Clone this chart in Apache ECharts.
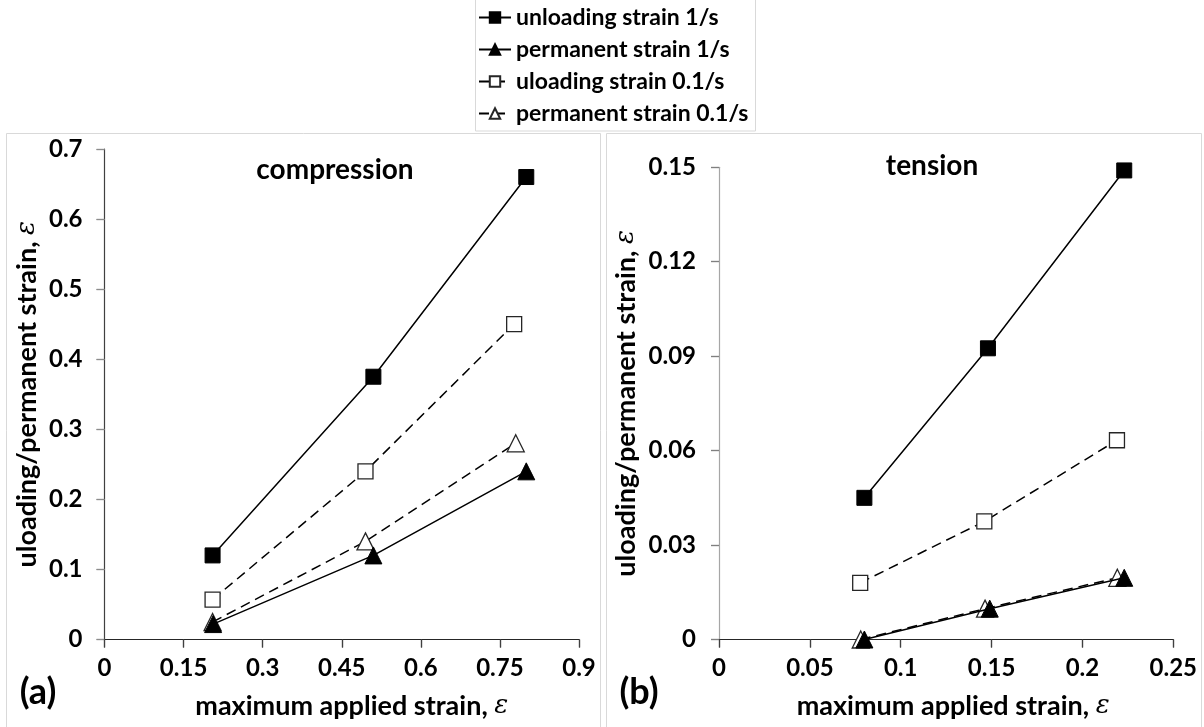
<!DOCTYPE html>
<html>
<head>
<meta charset="utf-8">
<script src="https://cdn.jsdelivr.net/npm/echarts@6/dist/echarts.min.js"></script>
<style>html,body{margin:0;padding:0;background:#fff;}#c{width:1204px;height:727px;}</style>
</head>
<body>
<div id="c"></div>
<script>
// ---- data: compression (panel a) ----
const seriesNames = ['unloading strain 1/s', 'permanent strain 1/s', 'uloading strain 0.1/s', 'permanent strain 0.1/s'];
const compUnload1X = [0.205, 0.51, 0.80];
const compUnload1Y = [0.12, 0.375, 0.66];
const compPerm1X = [0.206, 0.51, 0.80];
const compPerm1Y = [0.022, 0.12, 0.24];
const compUnload01X = [0.205, 0.495, 0.777];
const compUnload01Y = [0.057, 0.24, 0.45];
const compPerm01X = [0.205, 0.495, 0.78];
const compPerm01Y = [0.025, 0.14, 0.28];
// ---- data: tension (panel b) ----
const tensUnload1X = [0.080, 0.148, 0.223];
const tensUnload1Y = [0.045, 0.0925, 0.149];
const tensPerm1X = [0.080, 0.149, 0.223];
const tensPerm1Y = [0.0, 0.0098, 0.0196];
const tensUnload01X = [0.0777, 0.146, 0.219];
const tensUnload01Y = [0.018, 0.0375, 0.0633];
const tensPerm01X = [0.078, 0.1464, 0.2192];
const tensPerm01Y = [0.0, 0.0098, 0.0196];
// ---- tick labels ----
const compXTicks = ['0', '0.15', '0.3', '0.45', '0.6', '0.75', '0.9'];
const compYTicks = ['0', '0.1', '0.2', '0.3', '0.4', '0.5', '0.6', '0.7'];
const tensXTicks = ['0', '0.05', '0.1', '0.15', '0.2', '0.25'];
const tensYTicks = ['0', '0.03', '0.06', '0.09', '0.12', '0.15'];

const FONT = 'Lato';
const zip = (xs, ys) => xs.map((x, i) => [x, ys[i]]);
const tickFmt = (labels, step) => v => labels[Math.round(v / step)] ?? '';

function axisPair(grid, min, max, step, labels, opts) {
  const main = {
    type: 'value', gridIndex: grid, min: min, max: max, interval: step,
    axisLine: { show: true, onZero: false, lineStyle: { color: opts.lineColor, width: 1.2 } },
    axisTick: { show: true, inside: false, length: 8, lineStyle: { color: opts.tickColor, width: 1.2 } },
    splitLine: { show: false },
    axisLabel: { formatter: tickFmt(labels, step), fontFamily: FONT, fontWeight: 'bold', fontSize: 24, color: '#000', margin: opts.labelMargin },
    name: opts.name, nameLocation: 'middle', nameGap: opts.nameGap,
    nameTextStyle: { fontFamily: FONT, fontWeight: 'bold', fontSize: 27, color: '#000', padding: opts.namePad || 0,
      rich: { i: { fontFamily: 'DejaVu Serif', fontStyle: 'italic', fontWeight: 'normal', fontSize: 26, color: '#000' } } }
  };
  const twin = {
    type: 'value', gridIndex: grid, min: min, max: max, interval: step,
    axisLine: { show: false },
    axisTick: { show: true, inside: true, length: 8, lineStyle: { color: opts.tickColor, width: 1.2 } },
    axisLabel: { show: false }, splitLine: { show: false }
  };
  return [main, twin];
}

const [cx, cxT] = axisPair(0, 0, 0.9, 0.15, compXTicks, { lineColor: '#262626', tickColor: '#404040', labelMargin: 17, name: 'maximum applied strain, {i|ε}', nameGap: 53, namePad: [0, 0, 0, 20] });
const [cy, cyT] = axisPair(0, 0, 0.7, 0.1, compYTicks, { lineColor: '#404040', tickColor: '#8c8c8c', labelMargin: 22, name: 'uloading/permanent strain, {i|ε}', nameGap: 64 });
const [tx, txT] = axisPair(1, 0, 0.25, 0.05, tensXTicks, { lineColor: '#262626', tickColor: '#404040', labelMargin: 17, name: 'maximum applied strain, {i|ε}', nameGap: 53, namePad: [0, 0, 0, 14] });
const [ty, tyT] = axisPair(1, 0, 0.15, 0.03, tensYTicks, { lineColor: '#a6a6a6', tickColor: '#808080', labelMargin: 23, name: 'uloading/permanent strain, {i|ε}', nameGap: 79 });

function filled(name, data, sym, size, xi, yi) {
  return { name: name, type: 'line', xAxisIndex: xi, yAxisIndex: yi, data: data, z: 5,
    symbol: sym, symbolSize: size, showSymbol: true, animation: false,
    itemStyle: { color: '#000', borderColor: '#000', borderWidth: 1 },
    lineStyle: { color: '#000', width: 1.5, type: 'solid' } };
}
function open(name, data, sym, size, xi, yi) {
  return { name: name, type: 'line', xAxisIndex: xi, yAxisIndex: yi, data: data, z: 3,
    symbol: sym, symbolSize: size, showSymbol: true, animation: false,
    itemStyle: { color: '#fff', borderColor: '#262626', borderWidth: 1.3 },
    lineStyle: { color: '#000', width: 1.5, type: [10, 6] } };
}

const chart = echarts.init(document.getElementById('c'), null, { renderer: 'canvas' });
chart.setOption({
  backgroundColor: '#fff',
  animation: false,
  grid: [
    { left: 104.5, top: 149, width: 474.5, height: 490.5 },
    { left: 719, top: 167.3, width: 454.3, height: 472.2 }
  ],
  xAxis: [cx, tx, cxT, txT].map((a, i) => Object.assign(a, { gridIndex: i % 2 })),
  yAxis: [cy, ty, cyT, tyT].map((a, i) => Object.assign(a, { gridIndex: i % 2 })),
  legend: {
    data: seriesNames, orient: 'vertical', left: 478, top: 6, padding: 0,
    itemWidth: 32, itemHeight: 13, itemGap: 9,
    textStyle: { fontFamily: FONT, fontWeight: 'bold', fontSize: 23, color: '#000' },
    inactiveColor: '#000'
  },
  title: [
    { text: 'compression', left: 330, top: 151, textAlign: 'center', textStyle: { fontFamily: FONT, fontWeight: 'bold', fontSize: 28, color: '#000' } },
    { text: 'tension', left: 927, top: 147, textAlign: 'center', textStyle: { fontFamily: FONT, fontWeight: 'bold', fontSize: 28, color: '#000' } }
  ],
  graphic: [
    { type: 'rect', shape: { x: 475.5, y: -2, width: 280, height: 133 }, style: { fill: 'none', stroke: '#d9d9d9', lineWidth: 1 }, z: -1 },
    { type: 'rect', shape: { x: 6.5, y: 133.5, width: 594, height: 600 }, style: { fill: 'none', stroke: '#d9d9d9', lineWidth: 1 }, z: -1 },
    { type: 'rect', shape: { x: 606.5, y: 133.5, width: 595, height: 600 }, style: { fill: 'none', stroke: '#d9d9d9', lineWidth: 1 }, z: -1 },
    { type: 'text', x: 38, y: 692, style: { text: '(a)', font: 'bold 36px Lato', fill: '#000', textAlign: 'center', textVerticalAlign: 'middle' } },
    { type: 'text', x: 639, y: 692, style: { text: '(b)', font: 'bold 36px Lato', fill: '#000', textAlign: 'center', textVerticalAlign: 'middle' } }
  ],
  series: [
    open(seriesNames[2], zip(compUnload01X, compUnload01Y), 'rect', 15, 0, 0),
    open(seriesNames[3], zip(compPerm01X, compPerm01Y), 'triangle', 17, 0, 0),
    filled(seriesNames[0], zip(compUnload1X, compUnload1Y), 'rect', 15, 0, 0),
    filled(seriesNames[1], zip(compPerm1X, compPerm1Y), 'triangle', 17, 0, 0),
    open(seriesNames[2], zip(tensUnload01X, tensUnload01Y), 'rect', 15, 1, 1),
    open(seriesNames[3], zip(tensPerm01X, tensPerm01Y), 'triangle', 17, 1, 1),
    filled(seriesNames[0], zip(tensUnload1X, tensUnload1Y), 'rect', 15, 1, 1),
    filled(seriesNames[1], zip(tensPerm1X, tensPerm1Y), 'triangle', 17, 1, 1)
  ]
});
</script>
</body>
</html>
